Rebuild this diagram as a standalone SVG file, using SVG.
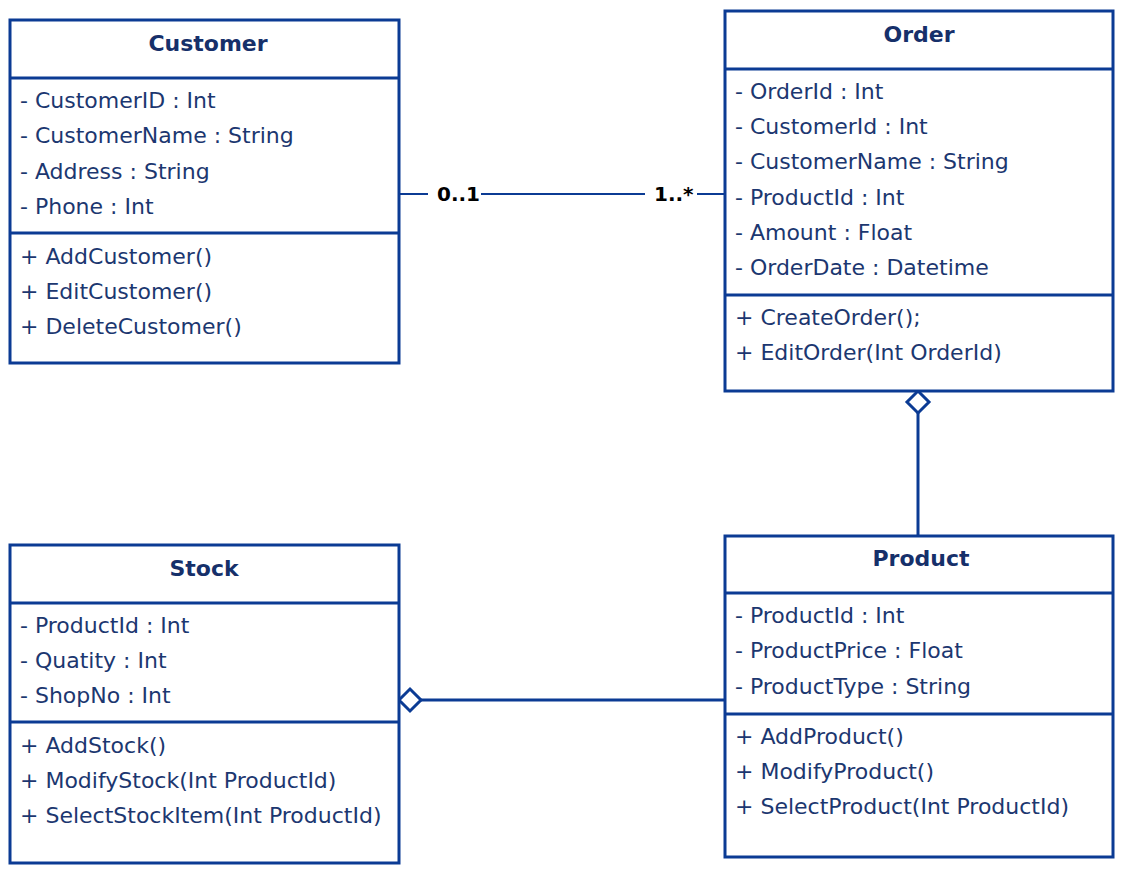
<svg xmlns="http://www.w3.org/2000/svg" width="1128" height="873" viewBox="0 0 1128 873">
<style>
.box{fill:#fff;stroke:#0b3b94;stroke-width:3}
.div{stroke:#0b3b94;stroke-width:3}
.t{font-family:"DejaVu Sans",sans-serif;font-size:22px;fill:#1c3770}
.h{font-family:"DejaVu Sans",sans-serif;font-size:22px;font-weight:bold;fill:#16306a;text-anchor:middle}
.m{font-family:"DejaVu Sans",sans-serif;font-size:20px;font-weight:bold;fill:#000}
.c{stroke:#0b3b94;fill:none}
</style>
<rect width="1128" height="873" fill="#fff"/>
<g id="connectors">
<line class="c" stroke-width="2" x1="399" y1="194" x2="428" y2="194"/>
<line class="c" stroke-width="2" x1="481" y1="194" x2="645" y2="194"/>
<line class="c" stroke-width="2" x1="697" y1="194" x2="725" y2="194"/>
<text class="m" x="437" y="201">0..1</text>
<text class="m" x="654" y="201">1..*</text>
<line class="c" stroke-width="3" x1="918" y1="413" x2="918" y2="536"/>
<path class="c" stroke-width="3" fill="#fff" d="M918 391 L929 402 L918 413 L907 402 Z"/>
<line class="c" stroke-width="3" x1="421" y1="700" x2="725" y2="700"/>
<path class="c" stroke-width="3" fill="#fff" d="M399 700 L410 689 L421 700 L410 711 Z"/>
</g>
<g id="customer">
<rect class="box" x="10" y="20" width="389" height="343"/>
<line class="div" x1="10" y1="78" x2="399" y2="78"/>
<line class="div" x1="10" y1="233" x2="399" y2="233"/>
<text class="h" x="208" y="51">Customer</text>
<text class="t" x="20" y="108">- CustomerID : Int</text>
<text class="t" x="20" y="143">- CustomerName : String</text>
<text class="t" x="20" y="179">- Address : String</text>
<text class="t" x="20" y="214">- Phone : Int</text>
<text class="t" x="20" y="264">+ AddCustomer()</text>
<text class="t" x="20" y="299">+ EditCustomer()</text>
<text class="t" x="20" y="334">+ DeleteCustomer()</text>
</g>
<g id="order">
<rect class="box" x="725" y="11" width="388" height="380"/>
<line class="div" x1="725" y1="69" x2="1113" y2="69"/>
<line class="div" x1="725" y1="295" x2="1113" y2="295"/>
<text class="h" x="919" y="42">Order</text>
<text class="t" x="735" y="99">- OrderId : Int</text>
<text class="t" x="735" y="134">- CustomerId : Int</text>
<text class="t" x="735" y="169">- CustomerName : String</text>
<text class="t" x="735" y="205">- ProductId : Int</text>
<text class="t" x="735" y="240">- Amount : Float</text>
<text class="t" x="735" y="275">- OrderDate : Datetime</text>
<text class="t" x="735" y="325">+ CreateOrder();</text>
<text class="t" x="735" y="360">+ EditOrder(Int OrderId)</text>
</g>
<g id="stock">
<rect class="box" x="10" y="545" width="389" height="318"/>
<line class="div" x1="10" y1="603" x2="399" y2="603"/>
<line class="div" x1="10" y1="722" x2="399" y2="722"/>
<text class="h" x="204" y="576">Stock</text>
<text class="t" x="20" y="633">- ProductId : Int</text>
<text class="t" x="20" y="668">- Quatity : Int</text>
<text class="t" x="20" y="703">- ShopNo : Int</text>
<text class="t" x="20" y="753">+ AddStock()</text>
<text class="t" x="20" y="788">+ ModifyStock(Int ProductId)</text>
<text class="t" x="20" y="823">+ SelectStockItem(Int ProductId)</text>
</g>
<g id="product">
<rect class="box" x="725" y="536" width="388" height="321"/>
<line class="div" x1="725" y1="593" x2="1113" y2="593"/>
<line class="div" x1="725" y1="714" x2="1113" y2="714"/>
<text class="h" x="921" y="566">Product</text>
<text class="t" x="735" y="623">- ProductId : Int</text>
<text class="t" x="735" y="658">- ProductPrice : Float</text>
<text class="t" x="735" y="694">- ProductType : String</text>
<text class="t" x="735" y="744">+ AddProduct()</text>
<text class="t" x="735" y="779">+ ModifyProduct()</text>
<text class="t" x="735" y="814">+ SelectProduct(Int ProductId)</text>
</g>
</svg>
